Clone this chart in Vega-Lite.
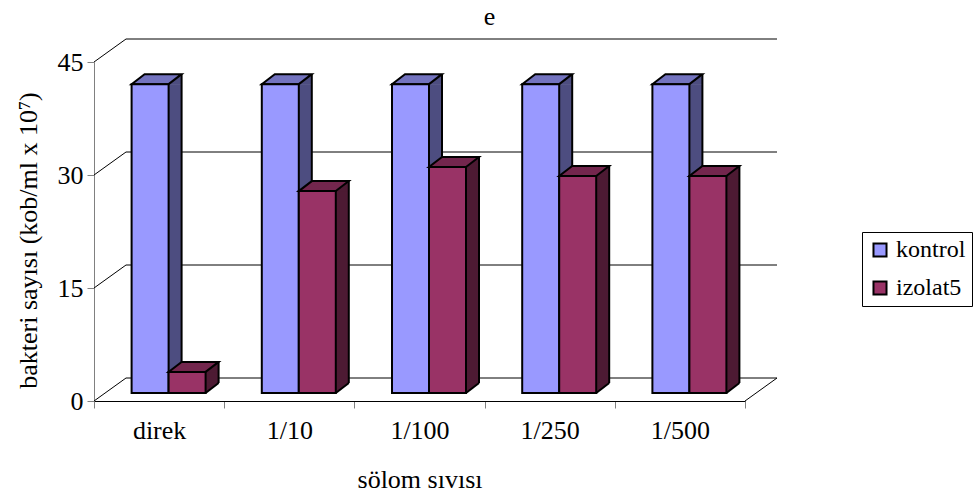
{
  "$schema": "https://vega.github.io/schema/vega-lite/v6.json",
  "width": 651,
  "height": 339,
  "autosize": "none",
  "padding": {"left": 94, "top": 62, "right": 235, "bottom": 101},
  "background": "white",
  "title": {"text": "e", "fontSize": 26, "font": "Liberation Serif, Times New Roman, serif", "fontWeight": "normal", "color": "black", "anchor": "middle", "frame": "group", "dx": 70, "dy": 15, "offset": 3, "baseline": "alphabetic"},
  "config": {"view": {"stroke": null}, "font": "Liberation Serif, Times New Roman, serif",
    "style": {"guide-label": {"font": "Liberation Serif, Times New Roman, serif"}, "guide-title": {"font": "Liberation Serif, Times New Roman, serif"}},
    "legend": {"labelFont": "Liberation Serif, Times New Roman, serif", "titleFont": "Liberation Serif, Times New Roman, serif"},
    "axis": {"labelFont": "Liberation Serif, Times New Roman, serif", "titleFont": "Liberation Serif, Times New Roman, serif"}},
  "datasets": {
    "bars": [
      {"cat": "direk", "series": "kontrol", "value": 41},
      {"cat": "direk", "series": "izolat5", "value": 2.8},
      {"cat": "1/10", "series": "kontrol", "value": 41},
      {"cat": "1/10", "series": "izolat5", "value": 26.8},
      {"cat": "1/100", "series": "kontrol", "value": 41},
      {"cat": "1/100", "series": "izolat5", "value": 30},
      {"cat": "1/250", "series": "kontrol", "value": 41},
      {"cat": "1/250", "series": "izolat5", "value": 28.8},
      {"cat": "1/500", "series": "kontrol", "value": 41},
      {"cat": "1/500", "series": "izolat5", "value": 28.8}
    ],
    "ticks": [{"v": 0}, {"v": 15}, {"v": 30}, {"v": 45}]
  },
  "layer": [
    {
      "data": {"name": "ticks"},
      "mark": {"type": "rule", "color": "black", "strokeWidth": 1, "xOffset": 32, "x2Offset": 32, "yOffset": -23},
      "encoding": {
        "x": {"datum": "direk", "type": "nominal", "bandPosition": 0,
          "scale": {"domain": ["direk", "1/10", "1/100", "1/250", "1/500"], "paddingInner": 0, "paddingOuter": 0},
          "axis": {"title": "sölom sıvısı", "tickBand": "extent", "tickSize": 7, "labelPadding": 9, "labelFontSize": 26, "titleFontSize": 26, "labelAngle": 0, "domainColor": "black", "tickColor": "#808080", "titleY": 86, "titleBaseline": "alphabetic", "labelColor": "black", "titleColor": "black", "titleFontWeight": "normal", "labelFont": "Liberation Serif, Times New Roman, serif", "titleFont": "Liberation Serif, Times New Roman, serif", "grid": false}},
        "x2": {"datum": "1/500", "bandPosition": 1},
        "y": {"field": "v", "type": "quantitative",
          "scale": {"domain": [0, 45], "nice": false, "zero": true},
          "axis": {"title": "bakteri sayısı (kob/ml x 10⁷)", "values": [0, 15, 30, 45], "tickSize": 7, "labelPadding": 4, "labelFontSize": 26, "titleFontSize": 26, "domainColor": "#808080", "tickColor": "#808080", "grid": false, "titleX": -66, "titleY": 178, "titleAngle": -90, "titleBaseline": "middle", "titleAlign": "center", "titleFontWeight": "normal", "labelColor": "black", "titleColor": "black", "labelFont": "Liberation Serif, Times New Roman, serif", "titleFont": "Liberation Serif, Times New Roman, serif"}}
      }
    },
    {
      "data": {"name": "ticks"},
      "mark": {"type": "rule", "color": "black", "strokeWidth": 1, "x2Offset": 32, "y2Offset": -23},
      "encoding": {
        "x": {"datum": "direk", "type": "nominal", "bandPosition": 0},
        "x2": {"datum": "direk", "bandPosition": 0},
        "y": {"field": "v", "type": "quantitative"},
        "y2": {"field": "v"}
      }
    },
    {
      "data": {"name": "ticks"},
      "transform": [{"filter": "datum.v === 0"}],
      "mark": {"type": "rule", "color": "black", "strokeWidth": 1, "x2Offset": 32, "y2Offset": -23},
      "encoding": {
        "x": {"datum": "1/500", "type": "nominal", "bandPosition": 1},
        "x2": {"datum": "1/500", "bandPosition": 1},
        "y": {"field": "v", "type": "quantitative"},
        "y2": {"field": "v"}
      }
    },
    {
      "data": {"name": "bars"},
      "transform": [{"filter": "datum.series === 'kontrol'"}],
      "mark": {"type": "bar", "width": 13, "xOffset": 16, "yOffset": -8, "y2Offset": -18, "fill": "#4D4D80", "strokeWidth": 0},
      "encoding": {
        "x": {"field": "cat", "type": "nominal"},
        "y": {"field": "value", "type": "quantitative"},
        "y2": {"datum": 0}
      }
    },
    {
      "data": {"name": "bars"},
      "transform": [{"filter": "datum.series === 'kontrol'"}],
      "mark": {"type": "point", "shape": "M9.5,0.5L22.5,-10L22.5,0.5Z", "size": 4, "filled": true, "fill": "#4D4D80", "strokeWidth": 0, "opacity": 1, "yOffset": -8},
      "encoding": {
        "x": {"field": "cat", "type": "nominal"},
        "y": {"field": "value", "type": "quantitative"}
      }
    },
    {
      "data": {"name": "bars"},
      "transform": [{"filter": "datum.series === 'kontrol'"}],
      "mark": {"type": "point", "shape": "M9.5,-10.5L9.5,0L22.5,-10.5Z", "size": 4, "filled": true, "fill": "#4D4D80", "strokeWidth": 0, "opacity": 1, "yOffset": -8},
      "encoding": {
        "x": {"field": "cat", "type": "nominal"},
        "y": {"datum": 0, "type": "quantitative"}
      }
    },
    {
      "data": {"name": "bars"},
      "transform": [{"filter": "datum.series === 'kontrol'"}],
      "mark": {"type": "point", "shape": "M-27.5,0L9.5,0L22.5,-10L-14.5,-10Z", "size": 4, "filled": true, "fill": "#7373BF", "stroke": "black", "strokeWidth": 2, "opacity": 1, "yOffset": -8},
      "encoding": {
        "x": {"field": "cat", "type": "nominal"},
        "y": {"field": "value", "type": "quantitative"}
      }
    },
    {
      "data": {"name": "bars"},
      "transform": [{"filter": "datum.series === 'kontrol'"}],
      "mark": {"type": "rule", "color": "black", "strokeWidth": 2, "xOffset": 22.5, "yOffset": -18, "y2Offset": -18},
      "encoding": {
        "x": {"field": "cat", "type": "nominal"},
        "y": {"field": "value", "type": "quantitative"},
        "y2": {"datum": 0}
      }
    },
    {
      "data": {"name": "bars"},
      "transform": [{"filter": "datum.series === 'kontrol'"}],
      "mark": {"type": "rule", "color": "black", "strokeWidth": 2, "xOffset": 9.5, "x2Offset": 22.5, "yOffset": -8, "y2Offset": -18},
      "encoding": {
        "x": {"field": "cat", "type": "nominal"},
        "x2": {"field": "cat"},
        "y": {"datum": 0, "type": "quantitative"},
        "y2": {"datum": 0}
      }
    },
    {
      "data": {"name": "bars"},
      "transform": [{"filter": "datum.series === 'kontrol'"}],
      "mark": {"type": "bar", "width": 37, "xOffset": -9, "yOffset": -8, "y2Offset": -8, "stroke": "black", "strokeWidth": 2, "opacity": 1},
      "encoding": {
        "x": {"field": "cat", "type": "nominal"},
        "y": {"field": "value", "type": "quantitative"},
        "y2": {"datum": 0},
        "color": {"field": "series", "type": "nominal",
          "scale": {"domain": ["kontrol", "izolat5"], "range": ["#9999FF", "#993366"]},
          "legend": {"title": null, "orient": "none", "legendX": 768, "legendY": 170, "symbolType": "square", "symbolSize": 170, "symbolStrokeColor": "black", "symbolStrokeWidth": 2, "symbolOpacity": 1, "labelFontSize": 24, "labelFont": "Liberation Serif, Times New Roman, serif", "labelColor": "black", "strokeColor": "black", "fillColor": "white", "padding": 6, "rowPadding": 14, "labelOffset": 4}}
      }
    },
    {
      "data": {"name": "bars"},
      "transform": [{"filter": "datum.series === 'izolat5'"}],
      "mark": {"type": "bar", "width": 13, "xOffset": 53, "yOffset": -8, "y2Offset": -18, "fill": "#4D1A33", "strokeWidth": 0},
      "encoding": {
        "x": {"field": "cat", "type": "nominal"},
        "y": {"field": "value", "type": "quantitative"},
        "y2": {"datum": 0}
      }
    },
    {
      "data": {"name": "bars"},
      "transform": [{"filter": "datum.series === 'izolat5'"}],
      "mark": {"type": "point", "shape": "M46.5,0.5L59.5,-10L59.5,0.5Z", "size": 4, "filled": true, "fill": "#4D1A33", "strokeWidth": 0, "opacity": 1, "yOffset": -8},
      "encoding": {
        "x": {"field": "cat", "type": "nominal"},
        "y": {"field": "value", "type": "quantitative"}
      }
    },
    {
      "data": {"name": "bars"},
      "transform": [{"filter": "datum.series === 'izolat5'"}],
      "mark": {"type": "point", "shape": "M46.5,-10.5L46.5,0L59.5,-10.5Z", "size": 4, "filled": true, "fill": "#4D1A33", "strokeWidth": 0, "opacity": 1, "yOffset": -8},
      "encoding": {
        "x": {"field": "cat", "type": "nominal"},
        "y": {"datum": 0, "type": "quantitative"}
      }
    },
    {
      "data": {"name": "bars"},
      "transform": [{"filter": "datum.series === 'izolat5'"}],
      "mark": {"type": "point", "shape": "M9.5,0L46.5,0L59.5,-10L22.5,-10Z", "size": 4, "filled": true, "fill": "#73264D", "stroke": "black", "strokeWidth": 2, "opacity": 1, "yOffset": -8},
      "encoding": {
        "x": {"field": "cat", "type": "nominal"},
        "y": {"field": "value", "type": "quantitative"}
      }
    },
    {
      "data": {"name": "bars"},
      "transform": [{"filter": "datum.series === 'izolat5'"}],
      "mark": {"type": "rule", "color": "black", "strokeWidth": 2, "xOffset": 59.5, "yOffset": -18, "y2Offset": -18},
      "encoding": {
        "x": {"field": "cat", "type": "nominal"},
        "y": {"field": "value", "type": "quantitative"},
        "y2": {"datum": 0}
      }
    },
    {
      "data": {"name": "bars"},
      "transform": [{"filter": "datum.series === 'izolat5'"}],
      "mark": {"type": "rule", "color": "black", "strokeWidth": 2, "xOffset": 46.5, "x2Offset": 59.5, "yOffset": -8, "y2Offset": -18},
      "encoding": {
        "x": {"field": "cat", "type": "nominal"},
        "x2": {"field": "cat"},
        "y": {"datum": 0, "type": "quantitative"},
        "y2": {"datum": 0}
      }
    },
    {
      "data": {"name": "bars"},
      "transform": [{"filter": "datum.series === 'izolat5'"}],
      "mark": {"type": "bar", "width": 37, "xOffset": 28, "yOffset": -8, "y2Offset": -8, "stroke": "black", "strokeWidth": 2, "opacity": 1},
      "encoding": {
        "x": {"field": "cat", "type": "nominal"},
        "y": {"field": "value", "type": "quantitative"},
        "y2": {"datum": 0},
        "color": {"field": "series", "type": "nominal"}
      }
    }
  ]
}
